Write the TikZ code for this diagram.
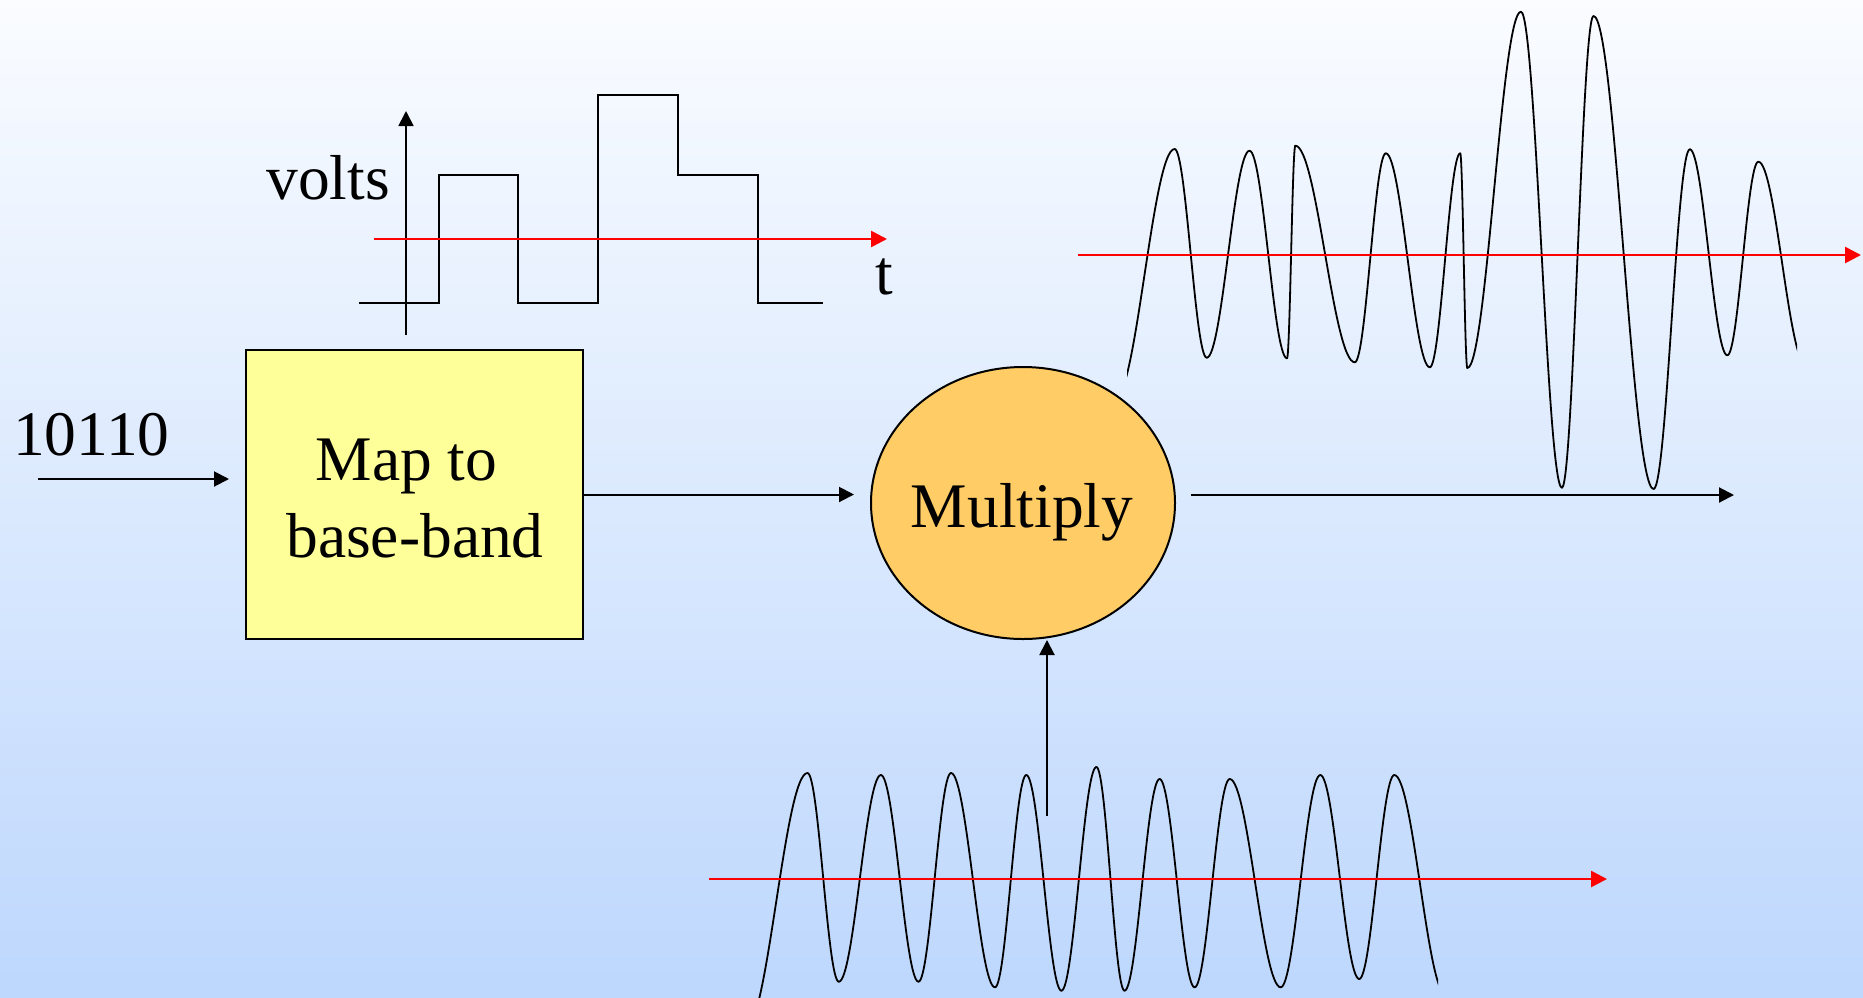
\documentclass[tikz,border=0pt]{standalone}
\usepackage{fontspec}
\setmainfont{Liberation Serif}
\usetikzlibrary{arrows.meta,shapes.geometric,calc}
\definecolor{bgtop}{RGB}{250,252,255}
\definecolor{bgbot}{RGB}{189,215,253}
\definecolor{boxyellow}{RGB}{255,255,153}
\definecolor{multorange}{RGB}{255,204,102}
\newcommand\drawwave[1]{%
  \foreach \px/\py [count=\wi, remember=\px as \lx (initially 0), remember=\py as \ly (initially 0)] in {#1}{%
    \ifnum\wi>1
      \draw[wave] (\lx,\ly) .. controls ({\lx+0.364*(\px-\lx)},\ly) and ({\px-0.364*(\px-\lx)},\py) .. (\px,\py);
    \fi}}
\begin{document}
\begin{tikzpicture}[x=1pt,y=-1pt,
  arr/.style={line width=2pt, -{Triangle[length=15pt,width=15pt]}},
  redarr/.style={line width=2.6pt, red, -{Triangle[length=16pt,width=16pt]}},
  wave/.style={line width=1.8pt, line cap=round},
  lbl/.style={inner sep=0pt, font=\fontsize{63.5}{76}\selectfont}]
\useasboundingbox (0,0) rectangle (1863,997);
\shade[top color=bgtop, bottom color=bgbot] (0,0) rectangle (1863,997);

% base-band pulse chart
\draw[line width=2pt] (359,303) -- (439,303) -- (439,175) -- (518,175) -- (518,303) -- (598,303) -- (598,95) -- (678,95) -- (678,175) -- (758,175) -- (758,303) -- (823,303);
\draw[arr, line width=1.8pt] (406,335) -- (406,111);
\draw[redarr] (374,239) -- (887,239);
\node[lbl, anchor=base east] (volts) at (390,199) {volts};
\node[lbl, anchor=base west] (tlab) at (875,294) {t};

% modulated output wave
\begin{scope}
\clip (1127,0) rectangle (1797,997);
\drawwave{1114.5/400, 1174.6/149, 1206.7/357.7, 1249.5/150.7, 1287/358.3, 1295.3/145.7, 1354.8/362.3, 1385.8/153.3, 1429.8/367.3, 1460.2/153.3, 1467.3/368, 1520.9/11.7, 1561.9/487.7, 1593.5/16, 1653.6/489, 1689.8/149.3, 1727.3/355.3, 1758.3/161.7, 1806/365}
\end{scope}
\draw[redarr] (1078,255) -- (1861,255);

% carrier wave
\begin{scope}
\clip (0,0) rectangle (1438,997);
\drawwave{745/1030, 807.5/773, 838.8/981.7, 880.9/775, 918.5/981.7, 951/773, 995/987.3, 1026.3/775, 1061.4/990.7, 1096.4/767, 1124.5/990.7, 1159.6/779, 1194.6/987.3, 1229.7/779, 1280.7/987.3, 1320.3/775, 1359.2/979, 1394.3/775, 1446/995}
\end{scope}
\draw[redarr] (709,879) -- (1607,879);

% blocks
\node[draw, line width=2pt, fill=boxyellow, minimum width=337pt, minimum height=289pt, inner sep=0pt] (map) at (414.5,494.5) {};
\node[lbl, anchor=base] (maptxt1) at (406.5,480) {Map to};
\node[lbl, anchor=base] (maptxt2) at (415,557) {base-band};
\node[ellipse, draw, line width=2pt, fill=multorange, minimum width=304pt, minimum height=272pt, inner sep=0pt] (mult) at (1023,503) {};
\node[lbl, anchor=base] (multtxt) at (1022,527) {Multiply};
\node[lbl, anchor=base west] (bits) at (13,455) {10110};

% connectors
\coordinate (inS) at (38,479);
\draw[arr, shorten >=16pt] (inS) -- (inS -| map.west);
\draw[arr, shorten >=16pt] (map.east) -- (map.east -| mult.west);
\coordinate (outE) at (1734,495);
\draw[arr, shorten <=15pt] (mult.east |- outE) -- (outE);
\coordinate (carS) at (1047,816);
\draw[arr] (carS) -- (carS |- mult.south);
\end{tikzpicture}
\end{document}
